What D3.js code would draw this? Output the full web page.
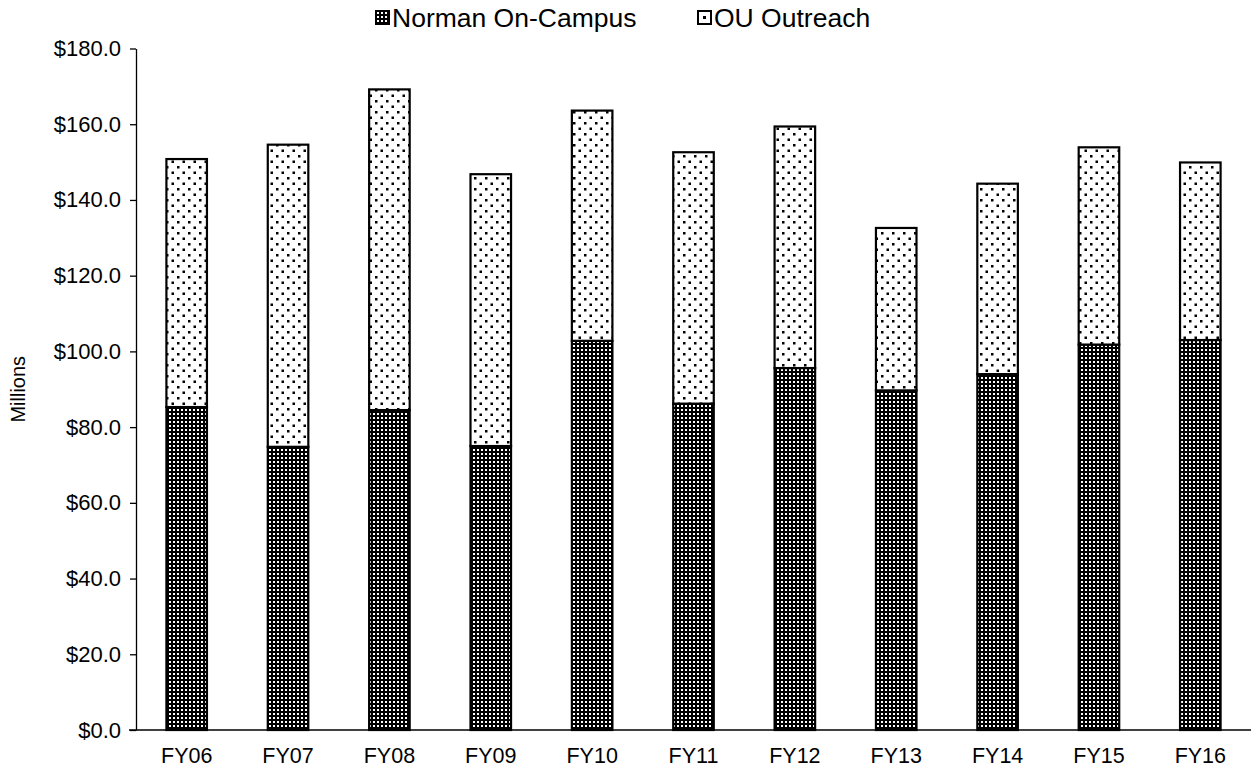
<!DOCTYPE html>
<html>
<head>
<meta charset="utf-8">
<script src="https://cdn.jsdelivr.net/npm/d3@7"></script>
<style>
    body { margin: 0; background: #fff; }
    text { font-family: "Liberation Sans", Arial, sans-serif; fill: #000; }
</style>
</head>
<body>
<svg id="chart" width="1251" height="772"></svg>
<script>
// values, in millions of dollars
const years = ['FY06', 'FY07', 'FY08', 'FY09', 'FY10', 'FY11', 'FY12', 'FY13', 'FY14', 'FY15', 'FY16'];
const norman = [85.3, 74.8, 84.5, 75.0, 102.8, 86.2, 95.6, 89.7, 94.0, 101.8, 103.0];
const outreach = [65.5, 79.8, 84.7, 71.8, 60.8, 66.4, 63.8, 42.9, 50.3, 52.1, 46.9];
const seriesNames = ['Norman On-Campus', 'OU Outreach'];
const yTicks = [0, 20, 40, 60, 80, 100, 120, 140, 160, 180];

const svg = d3.select('#chart');
const x0 = 136, x1 = 1251, yBottom = 730, yTop = 48.5;

const defs = svg.append('defs');

// dark fill with small white squares
const dark = defs.append('pattern')
    .attr('id', 'pat-norman')
    .attr('patternUnits', 'userSpaceOnUse')
    .attr('width', 4).attr('height', 4);
dark.append('rect').attr('width', 4).attr('height', 4).attr('fill', '#000');
dark.append('rect').attr('x', 1).attr('y', 1).attr('width', 2).attr('height', 2).attr('fill', '#fff');

// white fill with sparse black dots
const dots = defs.append('pattern')
    .attr('id', 'pat-outreach')
    .attr('patternUnits', 'userSpaceOnUse')
    .attr('width', 11).attr('height', 11);
dots.append('rect').attr('width', 11).attr('height', 11).attr('fill', '#fff');
dots.append('rect').attr('x', 1).attr('y', 1).attr('width', 2.5).attr('height', 2.5).attr('fill', '#000');
dots.append('rect').attr('x', 6.5).attr('y', 6.5).attr('width', 2.5).attr('height', 2.5).attr('fill', '#000');

const x = d3.scaleBand()
    .domain(years)
    .range([x0, x1])
    .paddingInner(0.6)
    .paddingOuter(0.3);

const y = d3.scaleLinear()
    .domain([0, 180])
    .range([yBottom, yTop]);

const stacked = years.map((yr, i) => ({ year: yr, norman: norman[i], outreach: outreach[i] }));
const stack = d3.stack().keys(['norman', 'outreach'])(stacked);
const fills = ['url(#pat-norman)', 'url(#pat-outreach)'];

// y axis
const yAxis = svg.append('g')
    .attr('transform', `translate(${x0},0)`)
    .call(d3.axisLeft(y).tickValues(yTicks).tickSize(6).tickSizeOuter(0).tickFormat(d => '$' + d3.format('.1f')(d)));
yAxis.select('.domain').attr('stroke', '#000').attr('stroke-width', 1.3);
yAxis.selectAll('.tick line').attr('stroke', '#000').attr('stroke-width', 1.3);
yAxis.selectAll('.tick text')
    .attr('x', -15)
    .attr('font-size', 22)
    .attr('font-family', '"Liberation Sans", Arial, sans-serif');

svg.append('text')
    .attr('transform', `translate(25,${(yTop + yBottom) / 2}) rotate(-90)`)
    .attr('text-anchor', 'middle')
    .attr('font-size', 20)
    .text('Millions');

// bars
svg.append('g')
    .selectAll('g')
    .data(stack)
    .enter()
    .append('g')
    .attr('fill', (d, i) => fills[i])
    .selectAll('rect')
    .data(d => d)
    .enter()
    .append('rect')
    .attr('x', d => x(d.data.year))
    .attr('y', d => y(d[1]))
    .attr('width', x.bandwidth())
    .attr('height', d => y(d[0]) - y(d[1]))
    .attr('stroke', '#000')
    .attr('stroke-width', 2.2);

// x axis
const xAxis = svg.append('g')
    .attr('transform', `translate(0,${yBottom})`)
    .call(d3.axisBottom(x).tickSize(0).tickSizeOuter(0));
xAxis.select('.domain')
    .attr('d', `M${x0 - 7},0H${x1}`)
    .attr('stroke', '#000')
    .attr('stroke-width', 1.3);
xAxis.selectAll('.tick text')
    .attr('y', 18)
    .attr('font-size', 21.5)
    .attr('font-family', '"Liberation Sans", Arial, sans-serif');

// legend
const legendX = [376, 698];
const legend = svg.append('g')
    .selectAll('g')
    .data(seriesNames)
    .enter()
    .append('g')
    .attr('transform', (d, i) => `translate(${legendX[i]},11)`);
legend.append('rect')
    .attr('width', 13).attr('height', 13)
    .attr('fill', (d, i) => i === 0 ? fills[0] : '#fff')
    .attr('stroke', '#000')
    .attr('stroke-width', 2);
legend.filter((d, i) => i === 1)
    .append('rect')
    .attr('x', 5).attr('y', 5).attr('width', 3).attr('height', 3)
    .attr('fill', '#000');
legend.append('text')
    .attr('x', 16)
    .attr('y', 6.5)
    .attr('dy', '0.35em')
    .attr('font-size', 26.5)
    .text(d => d);
</script>
</body>
</html>
